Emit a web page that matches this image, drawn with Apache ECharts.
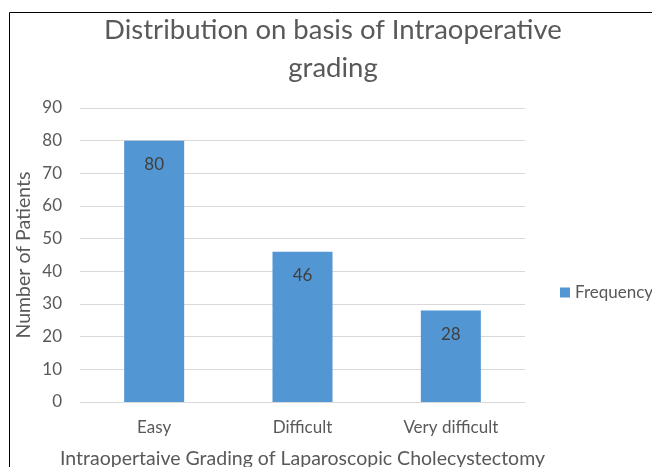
<!DOCTYPE html>
<html>
<head>
<meta charset="utf-8">
<script src="https://cdn.jsdelivr.net/npm/echarts@6/dist/echarts.min.js"></script>
<style>
  html, body { margin: 0; padding: 0; background: #fff; }
  #chart { width: 652px; height: 467px; }
</style>
</head>
<body>
<div id="chart"></div>
<script>
// data
const categories = ['Easy', 'Difficult', 'Very difficult']
const frequency = [80, 46, 28]

const FONT = 'Lato'
const grey = '#595959'

const chart = echarts.init(document.getElementById('chart'))

chart.setOption({
  animation: false,
  textStyle: { fontFamily: FONT },
  graphic: [
    {
      type: 'rect',
      shape: { x: 9.5, y: 12.5, width: 660, height: 470 },
      style: { fill: 'none', stroke: '#000', lineWidth: 1 },
      silent: true,
    },
  ],
  title: {
    text: 'Distribution on basis of Intraoperative\ngrading',
    left: 328,
    textAlign: 'center',
    top: 6,
    textStyle: {
      fontFamily: FONT,
      fontSize: 27.5,
      fontWeight: 'normal',
      color: grey,
      lineHeight: 38,
    },
  },
  legend: {
    left: 555,
    top: 279,
    itemWidth: 10,
    itemHeight: 10,
    itemGap: 5,
    textStyle: { fontFamily: FONT, fontSize: 17, color: grey },
    data: [{ name: 'Frequency', icon: 'rect' }],
  },
  grid: {
    left: 80,
    right: 127,
    top: 108,
    bottom: 65,
    outerBoundsMode: 'none',
  },
  xAxis: {
    type: 'category',
    data: categories,
    name: 'Intraopertaive Grading of Laparoscopic Cholecystectomy',
    nameLocation: 'middle',
    nameGap: 47,
    nameTextStyle: { fontFamily: FONT, fontSize: 19.5, color: grey },
    axisLine: { lineStyle: { color: '#d9d9d9' } },
    axisTick: { show: false },
    axisLabel: { color: grey, fontSize: 17, margin: 17 },
  },
  yAxis: {
    type: 'value',
    min: 0,
    max: 90,
    interval: 10,
    name: 'Number of Patients',
    nameLocation: 'middle',
    nameGap: 46,
    nameMoveOverlap: false,
    nameTextStyle: { fontFamily: FONT, fontSize: 19.5, color: grey },
    axisLine: { show: false },
    axisTick: { show: false },
    axisLabel: { color: grey, fontSize: 17, margin: 18 },
    splitLine: { lineStyle: { color: '#d9d9d9' } },
  },
  series: [
    {
      name: 'Frequency',
      type: 'bar',
      data: frequency,
      barWidth: 60,
      itemStyle: { color: '#5296d3' },
      label: {
        show: true,
        position: 'insideTop',
        distance: 15,
        color: '#404040',
        fontSize: 17,
      },
    },
  ],
})
</script>
</body>
</html>
